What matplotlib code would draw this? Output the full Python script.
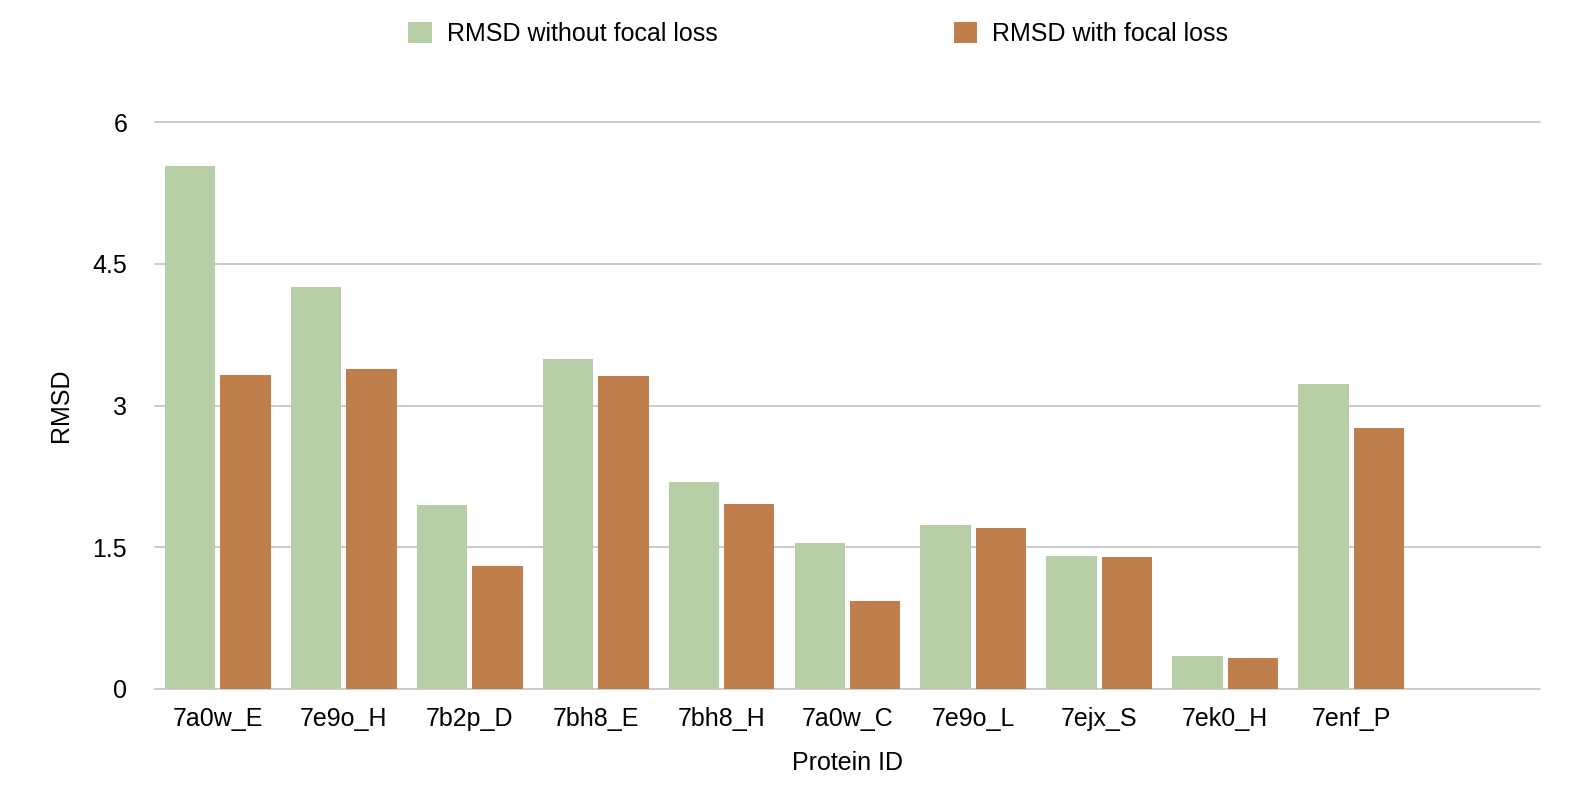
import numpy as np
import matplotlib
matplotlib.use('Agg')
import matplotlib.pyplot as plt

plt.rcParams['font.family'] = ['Liberation Sans', 'DejaVu Sans']

# Values
proteins = ['7a0w_E', '7e9o_H', '7b2p_D', '7bh8_E', '7bh8_H',
            '7a0w_C', '7e9o_L', '7ejx_S', '7ek0_H', '7enf_P']
rmsd_without = [5.53, 4.25, 1.95, 3.49, 2.19, 1.54, 1.74, 1.41, 0.35, 3.23]
rmsd_with = [3.32, 3.39, 1.30, 3.31, 1.96, 0.93, 1.70, 1.40, 0.33, 2.76]
y_ticks = [0, 1.5, 3, 4.5, 6]
y_tick_labels = ['0', '1.5', '3', '4.5', '6']

green = '#B8CEA6'
orange = '#C17E4D'
grid_col = '#BEBEBE'
fs = 18

fig = plt.figure(figsize=(15.78, 8), dpi=100)
ax = fig.add_axes([0.0982, 0.13875, 0.8777, 0.70875])

x = np.arange(len(proteins))
bw = 0.40
ax.bar(x - 0.22, rmsd_without, width=bw, color=green, label='RMSD without focal loss', zorder=3)
ax.bar(x + 0.22, rmsd_with, width=bw, color=orange, label='RMSD with focal loss', zorder=3)

# one empty slot at the right, as in the original
ax.set_xlim(-0.5, len(proteins) + 0.5)
ax.set_ylim(0, 6)
ax.set_yticks(y_ticks)
ax.set_yticklabels(y_tick_labels)
ax.set_xticks(x)
ax.set_xticklabels(proteins)

for y in y_ticks:
    ax.axhline(y, color=grid_col, lw=1.1, zorder=2, clip_on=False)

for s in ax.spines.values():
    s.set_visible(False)
ax.tick_params(axis='both', length=0, labelsize=fs, colors='black')
ax.tick_params(axis='y', pad=20)
ax.tick_params(axis='x', pad=13)

ax.set_xlabel('Protein ID', fontsize=fs, labelpad=14)
ax.set_ylabel('RMSD', fontsize=fs, labelpad=14)

fig.legend(loc='center', bbox_to_anchor=(0.5185, 0.9575), ncol=2, frameon=False,
           fontsize=fs, handlelength=0.95, handleheight=0.95,
           handletextpad=0.6, columnspacing=9.45)

plt.savefig('out.png', dpi=100)
